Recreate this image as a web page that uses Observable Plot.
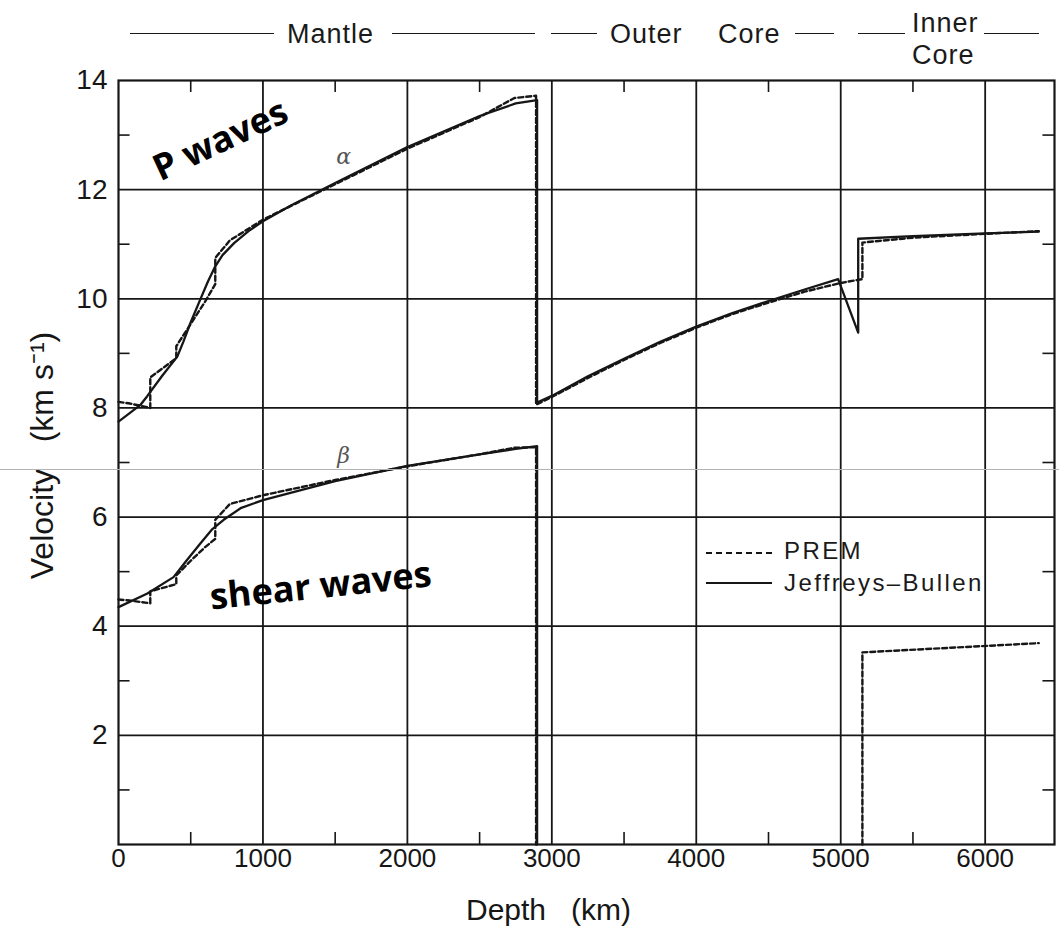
<!DOCTYPE html>
<html><head><meta charset="utf-8">
<script src="https://cdn.jsdelivr.net/npm/d3@7"></script>
<script src="https://cdn.jsdelivr.net/npm/@observablehq/plot@0.6"></script>
<style>
body{margin:0;background:#fff;}
#wrap{position:relative;width:1059px;height:933px;font-family:"Liberation Sans",Arial,sans-serif;color:#1a1a1a;}
#wrap svg{display:block;}
.hl{position:absolute;height:0;border-top:1.7px solid #1a1a1a;}
.ht{position:absolute;font-size:27px;line-height:1;letter-spacing:1px;transform:translateY(-50%);white-space:nowrap;}
.leg{position:absolute;font-size:24px;letter-spacing:2.4px;line-height:1;white-space:nowrap;}
.artifact{position:absolute;left:0;width:1059px;top:469px;height:0;border-top:1.5px solid #b4b4b4;}
</style></head><body><div id="wrap"></div>
<script>
// ---- data ----
const xTicks = [0, 1000, 2000, 3000, 4000, 5000, 6000];
const xMinor = [500, 1500, 2500, 3500, 4500, 5500];
const yTicks = [2, 4, 6, 8, 10, 12, 14];
const yMinor = [1, 3, 5, 7, 9, 11, 13];

// Jeffreys-Bullen P (alpha)
const jbPDepth = [0,150,200,300,407,450,500,565,620,669,720,800,900,1000,1200,1500,2000,2500,2750,2898,2898,3000,3250,3500,3750,4000,4250,4500,4750,4982,5121,5121,5500,6000,6371];
const jbPVel   = [7.75,8.05,8.22,8.58,8.94,9.22,9.57,9.98,10.32,10.59,10.8,11.02,11.24,11.42,11.72,12.12,12.78,13.35,13.58,13.64,8.1,8.22,8.58,8.9,9.21,9.49,9.74,9.96,10.17,10.36,9.38,11.1,11.15,11.2,11.23];
// PREM P
const premPDepth = [0,80,220,220,400,400,600,670,670,771,1000,1500,2000,2500,2741,2891,2891,3000,3250,3500,3750,4000,4250,4500,4750,5000,5150,5150,5500,6000,6371];
const premPVel   = [8.11,8.08,8.0,8.56,8.91,9.13,9.95,10.27,10.75,11.07,11.45,12.1,12.75,13.33,13.68,13.72,8.06,8.2,8.55,8.88,9.19,9.47,9.72,9.93,10.13,10.29,10.36,11.03,11.12,11.19,11.24];
// Jeffreys-Bullen S (beta)
const jbSDepth = [0,200,381,470,568,650,728,850,1000,1500,2000,2500,2750,2898,2898];
const jbSVel   = [4.35,4.6,4.9,5.2,5.52,5.78,5.95,6.17,6.31,6.66,6.94,7.15,7.25,7.3,0];
// PREM S
const premSDepth = [0,80,220,220,400,400,500,600,670,670,771,1000,1500,2000,2500,2741,2891,2891];
const premSVel   = [4.49,4.47,4.42,4.64,4.77,4.93,5.2,5.45,5.6,5.95,6.24,6.4,6.68,6.93,7.15,7.27,7.28,0];
const premSInnerDepth = [5150,5150,6371];
const premSInnerVel   = [0,3.52,3.69];

const header = [
  {text:"Mantle", left:287, top:34},
  {text:"Outer", left:610, top:34},
  {text:"Core", left:718, top:34},
  {text:"Inner", left:912, top:23},
  {text:"Core", left:912, top:55}
];
const headerLines = [[130,274,33],[392,535,33],[551,597,33],[795,834,33],[858,905,33],[984,1039,33]];
const legendItems = [{name:"PREM", dash:"6,4"},{name:"Jeffreys\u2013Bullen", dash:null}];

const annotations = [
  {label:"P waves", depth:707, vel:12.9, rotate:-25},
  {label:"shear waves", depth:1400, vel:4.73, rotate:-6}
];
const greek = [
  {label:"\u03b1", depth:1559, vel:12.6},
  {label:"\u03b2", depth:1559, vel:7.12}
];

// ---- build rows ----
function rows(depths, vels, seg){ return depths.map((d,i)=>({depth:d, vel:vels[i], seg})); }
const jbRows = [...rows(jbPDepth, jbPVel, "P"), ...rows(jbSDepth, jbSVel, "S")];
const premRows = [...rows(premPDepth, premPVel, "P"), ...rows(premSDepth, premSVel, "S"), ...rows(premSInnerDepth, premSInnerVel, "SI")];

const ink = "#161616";
const chart = Plot.plot({
  width: 1059, height: 933,
  marginTop: 80, marginBottom: 89, marginLeft: 118, marginRight: 5,
  x: {domain: [0, 6480]},
  y: {domain: [0, 14]},
  style: {fontFamily: "'Liberation Sans', Arial, sans-serif", color: ink, background: "white", overflow: "visible"},
  marks: [
    Plot.gridX(xTicks.filter(d=>d>0), {stroke: ink, strokeOpacity: 1, strokeWidth: 1.8}),
    Plot.gridY(yTicks.filter(d=>d<14), {stroke: ink, strokeOpacity: 1, strokeWidth: 1.8}),
    Plot.ruleX(xMinor, {x: d=>d, y1: 0, y2: 0.22, stroke: ink, strokeWidth: 1.6}),
    Plot.ruleX(xMinor, {x: d=>d, y1: 13.78, y2: 14, stroke: ink, strokeWidth: 1.6}),
    Plot.ruleY(yMinor, {y: d=>d, x1: 0, x2: 80, stroke: ink, strokeWidth: 1.6}),
    Plot.ruleY(yMinor, {y: d=>d, x1: 6400, x2: 6480, stroke: ink, strokeWidth: 1.6}),
    Plot.frame({stroke: ink, strokeWidth: 2.2}),
    Plot.line(jbRows, {x: "depth", y: "vel", z: "seg", stroke: ink, strokeWidth: 2.3, curve: "linear"}),
    Plot.line(premRows, {x: "depth", y: "vel", z: "seg", stroke: ink, strokeWidth: 2.4, strokeDasharray: "5,3", curve: "linear"}),
    Plot.axisX(xTicks, {tickSize: 0, tickPadding: 4, fontSize: 26, tickFormat: d3.format("d"), label: null}),
    Plot.axisY(yTicks, {tickSize: 0, tickPadding: 11, fontSize: 28, tickFormat: d3.format("d"), label: null}),
    Plot.text(["Depth   (km)"], {frameAnchor: "bottom", dx: -38, dy: 66, lineAnchor: "middle", fontSize: 30, fill: ink}),
    Plot.text(["Velocity   (km s\u207b\u00b9)"], {frameAnchor: "left", textAnchor: "middle", lineAnchor: "middle", dx: -76, dy: -7, rotate: -90, fontSize: 32, fill: ink}),
    Plot.text(annotations, {x: "depth", y: "vel", text: "label", rotate: "rotate", fontSize: 36, fontWeight: 700, fontFamily: "'Open Sans', sans-serif", fill: "#000"}),
    Plot.text(greek, {x: "depth", y: "vel", text: "label", fontSize: 22, fontStyle: "italic", fontFamily: "'DejaVu Serif', serif", fill: "#555"})
  ]
});

const wrap = document.getElementById("wrap");
wrap.appendChild(chart);
for (const [a,b,y] of headerLines) {
  const d = document.createElement("div"); d.className = "hl";
  d.style.left = a+"px"; d.style.width = (b-a)+"px"; d.style.top = y+"px"; wrap.appendChild(d);
}
for (const h of header) {
  const s = document.createElement("div"); s.className = "ht"; s.textContent = h.text;
  s.style.left = h.left+"px"; s.style.top = h.top+"px"; wrap.appendChild(s);
}
// legend
legendItems.forEach((it, i) => {
  const y = 553 + i*30;
  const ns = "http://www.w3.org/2000/svg";
  const sv = document.createElementNS(ns, "svg");
  sv.setAttribute("width", 70); sv.setAttribute("height", 6);
  sv.style.position = "absolute"; sv.style.left = "705px"; sv.style.top = (y-3)+"px";
  const ln = document.createElementNS(ns, "line");
  ln.setAttribute("x1", 1); ln.setAttribute("x2", 67); ln.setAttribute("y1", 3); ln.setAttribute("y2", 3);
  ln.setAttribute("stroke", ink); ln.setAttribute("stroke-width", 1.8);
  if (it.dash) ln.setAttribute("stroke-dasharray", it.dash);
  sv.appendChild(ln); wrap.appendChild(sv);
  const t = document.createElement("div"); t.className = "leg"; t.textContent = it.name;
  t.style.left = "784px"; t.style.top = (y-14+ (i?2:0))+"px"; wrap.appendChild(t);
});
const art = document.createElement("div"); art.className = "artifact"; wrap.appendChild(art);
</script></body></html>
